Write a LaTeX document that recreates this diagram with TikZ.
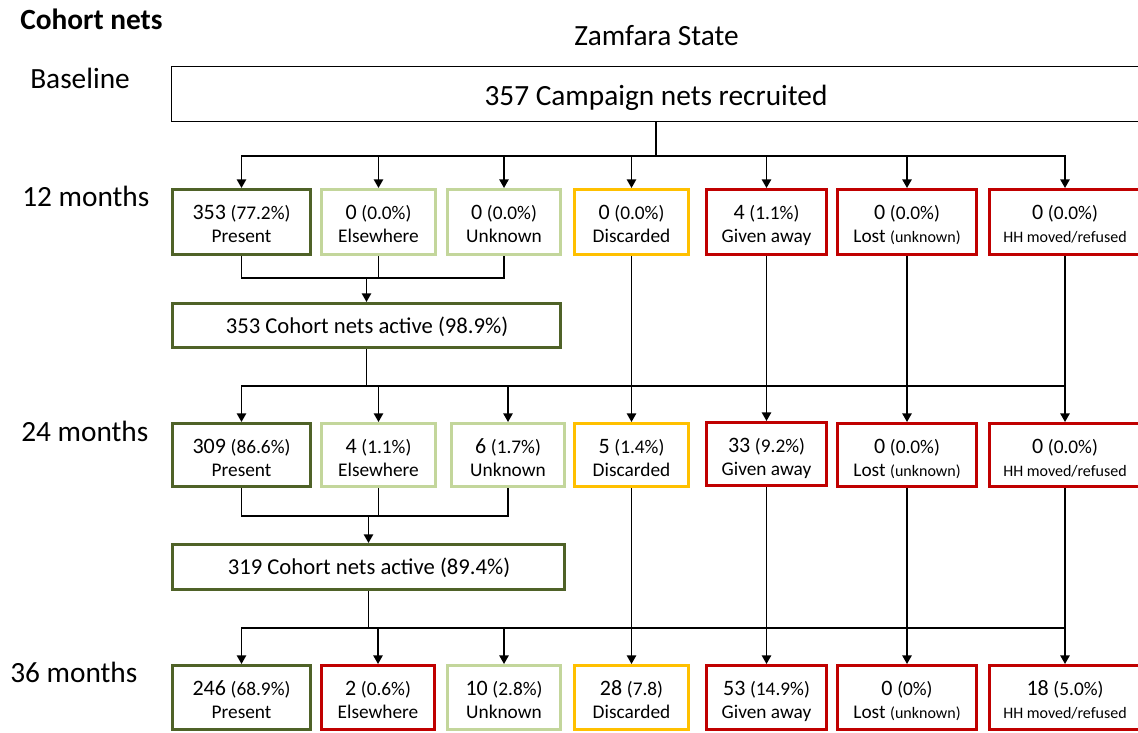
\documentclass[tikz,border=0pt]{standalone}
\usepackage{fontspec}
\setmainfont{Carlito}
\usetikzlibrary{arrows.meta}
\definecolor{dkgreen}{HTML}{4F6228}
\definecolor{ltgreen}{HTML}{C3D69B}
\definecolor{amber}{HTML}{FFC000}
\definecolor{dkred}{HTML}{C00000}
\newcommand\bigN[1]{{\fontsize{16.5}{19}\selectfont #1}}
\newcommand\smP[1]{{\fontsize{14.5}{17}\selectfont #1}}
\newcommand\tinyL[1]{{\fontsize{12}{14}\selectfont #1}}
\newcommand\nbox[8]{%
  \pgfmathsetmacro\bcx{(#3+#4)/2}%
  \pgfmathsetmacro\bcy{(#5+#6)/2}%
  \pgfmathsetmacro\bw{(#4-#3-3)*0.75}%
  \pgfmathsetmacro\bh{(#6-#5-3)*0.75}%
  \node[#2, minimum width=\bw pt, minimum height=\bh pt] (#1) at (\bcx,\bcy) {};%
  \node[txt] (#1a) at (\bcx,#5+31) {#7};%
  \node[txt] (#1b) at (\bcx,#5+54) {#8};%
}
\tikzset{
  txt/.style={anchor=base, inner sep=0pt, font=\fontsize{15.5}{18}\selectfont},
  lab/.style={anchor=base west, inner sep=0pt, font=\fontsize{22}{26}\selectfont},
  bx/.style={draw, line width=2.25pt, fill=white, inner sep=0pt},
  gp/.style={bx, draw=dkgreen},
  gl/.style={bx, draw=ltgreen},
  yb/.style={bx, draw=amber},
  rb/.style={bx, draw=dkred},
  conn/.style={line width=1.25pt, draw=black},
  arr/.style={conn, -{Triangle[width=7pt,length=6.5pt]}},
}
\begin{document}
\begin{tikzpicture}[x=0.75pt, y=-0.75pt]
\useasboundingbox (0,0) rectangle (1138,732);

% titles and row labels
\node[anchor=base west, inner sep=0pt, font=\bfseries\fontsize{22}{26}\selectfont] (title) at (20,29.3) {Cohort nets};
\node[txt, font=\fontsize{22}{26}\selectfont] (state) at (656.5,45) {Zamfara State};
\node[lab] (lb0) at (30,88.5) {Baseline};
\node[lab] (lb1) at (22,206.5) {12 months};
\node[lab] (lb2) at (21,441) {24 months};
\node[lab] (lb3) at (10,682.7) {36 months};

% baseline box
\node[draw, line width=1.1pt, fill=white, inner sep=0pt, minimum width=726.4pt, minimum height=40.9pt] (base) at (656,94) {};
\node[txt, font=\fontsize{22}{26}\selectfont] (baset) at (656,105) {357 Campaign nets recruited};

% row 1
\nbox{p1}{gp}{171}{312}{188}{256}{\bigN{353} \smP{(77.2\%)}}{\smP{Present}}
\nbox{e1}{gl}{320}{437}{188}{256}{\bigN{0} \smP{(0.0\%)}}{\smP{Elsewhere}}
\nbox{u1}{gl}{446}{562}{188}{256}{\bigN{0} \smP{(0.0\%)}}{\smP{Unknown}}
\nbox{d1}{yb}{573}{690}{188}{256}{\bigN{0} \smP{(0.0\%)}}{\smP{Discarded}}
\nbox{g1}{rb}{705}{828}{188}{256}{\bigN{4} \smP{(1.1\%)}}{\smP{Given away}}
\nbox{l1}{rb}{836}{978}{188}{256}{\bigN{0} \smP{(0.0\%)}}{\smP{Lost} \tinyL{(unknown)}}
\nbox{h1}{rb}{988}{1142}{188}{256}{\bigN{0} \smP{(0.0\%)}}{\tinyL{HH moved/refused}}

\node[gp, minimum width=291pt, minimum height=33pt] (a1) at (366.5,325.5) {};
\node[txt, font=\fontsize{17}{20}\selectfont] (a1t) at (367,333) {353 Cohort nets active (98.9\%)};

% row 2
\nbox{p2}{gp}{171}{312}{422}{488}{\bigN{309} \smP{(86.6\%)}}{\smP{Present}}
\nbox{e2}{gl}{320}{437}{422}{488}{\bigN{4} \smP{(1.1\%)}}{\smP{Elsewhere}}
\nbox{u2}{gl}{450}{566}{422}{488}{\bigN{6} \smP{(1.7\%)}}{\smP{Unknown}}
\nbox{d2}{yb}{573}{690}{422}{488}{\bigN{5} \smP{(1.4\%)}}{\smP{Discarded}}
\nbox{g2}{rb}{705}{828}{421}{487}{\bigN{33} \smP{(9.2\%)}}{\smP{Given away}}
\nbox{l2}{rb}{836}{978}{422}{488}{\bigN{0} \smP{(0.0\%)}}{\smP{Lost} \tinyL{(unknown)}}
\nbox{h2}{rb}{988}{1142}{422}{488}{\bigN{0} \smP{(0.0\%)}}{\tinyL{HH moved/refused}}

\node[gp, minimum width=294pt, minimum height=33.8pt] (a2) at (368.5,567) {};
\node[txt, font=\fontsize{17}{20}\selectfont] (a2t) at (369,574) {319 Cohort nets active (89.4\%)};

% row 3
\nbox{p3}{gp}{171}{312}{664}{731}{\bigN{246} \smP{(68.9\%)}}{\smP{Present}}
\nbox{e3}{rb}{320}{436}{664}{731}{\bigN{2} \smP{(0.6\%)}}{\smP{Elsewhere}}
\nbox{u3}{gl}{446}{562}{664}{731}{\bigN{10} \smP{(2.8\%)}}{\smP{Unknown}}
\nbox{d3}{yb}{573}{690}{664}{731}{\bigN{28} \smP{(7.8)}}{\smP{Discarded}}
\nbox{g3}{rb}{705}{828}{664}{731}{\bigN{53} \smP{(14.9\%)}}{\smP{Given away}}
\nbox{l3}{rb}{836}{978}{664}{731}{\bigN{0} \smP{(0\%)}}{\smP{Lost} \tinyL{(unknown)}}
\nbox{h3}{rb}{988}{1142}{664}{731}{\bigN{18} \smP{(5.0\%)}}{\tinyL{HH moved/refused}}

% connectors: baseline -> 12 months
\coordinate (j0) at (656,156);
\draw[conn] (base.south) -- (j0);
\foreach \t in {p1,e1,u1,d1,g1,l1,h1} \draw[arr] (j0) -| (\t.north);

% 12 months merge -> active
\path (a1.north) ++(0,-24) coordinate (m1);
\draw[conn] (p1.south) |- (m1);
\draw[conn] (u1.south) |- (m1);
\draw[conn] (e1.south) -- (e1.south |- m1);
\draw[arr] (m1) -- (a1.north);

% active -> 24 months
\path (a1.south) ++(0,37) coordinate (j1);
\draw[conn] (a1.south) -- (j1);
\foreach \t in {p2,e2,u2} \draw[arr] (j1) -| (\t.north);
\draw[conn] (j1) -- (j1 -| h2.north);
\foreach \s/\t in {d1/d2,g1/g2,l1/l2,h1/h2} \draw[arr] (\s.south) -- (\t.north);

% 24 months merge -> active
\path (a2.north) ++(0,-27) coordinate (m2);
\draw[conn] (p2.south) |- (m2);
\draw[conn] (u2.south) |- (m2);
\draw[conn] (e2.south) -- (e2.south |- m2);
\draw[arr] (m2) -- (a2.north);

% active -> 36 months
\path (a2.south) ++(0,37) coordinate (j2);
\draw[conn] (a2.south) -- (j2);
\foreach \t in {p3,e3,u3} \draw[arr] (j2) -| (\t.north);
\draw[conn] (j2) -- (j2 -| h3.north);
\foreach \s/\t in {d2/d3,g2/g3,l2/l3,h2/h3} \draw[arr] (\s.south) -- (\t.north);
\end{tikzpicture}
\end{document}
